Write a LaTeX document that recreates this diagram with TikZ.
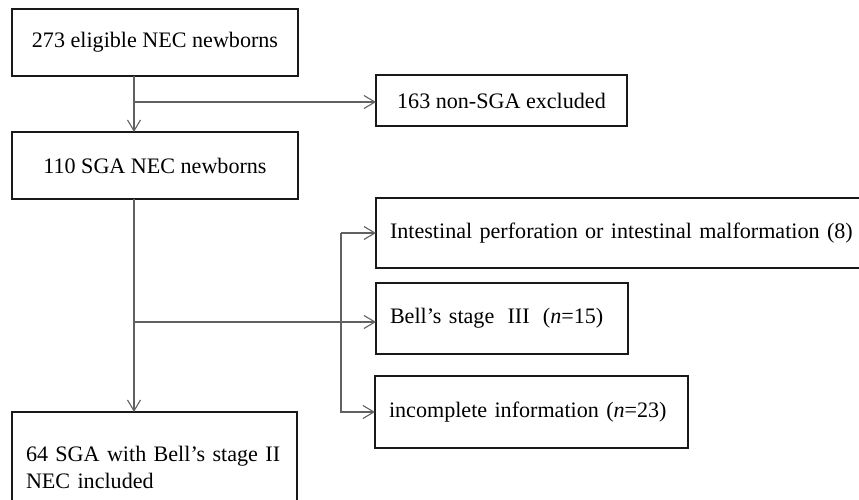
\documentclass[tikz,border=0pt]{standalone}
\usepackage{fontspec}
\setmainfont{Liberation Serif}
\usetikzlibrary{arrows.meta}
\begin{document}
\begin{tikzpicture}[x=1pt,y=-1pt,
  box/.style={draw=black!90, line width=1.8pt, outer sep=0pt, inner ysep=0pt,
    font=\fontsize{22.1}{27}\selectfont},
  arr/.style={draw=black!62, line width=1.1pt,
    -{Straight Barb[length=11pt,width=13pt,line width=1.1pt]}}]
\useasboundingbox (0,0) rectangle (859,500);
\clip (0,0) rectangle (859,500);

\node[box, minimum width=286pt, minimum height=67pt] (b1) at (155,42.5) {273 eligible NEC newborns};
\node[box, minimum width=251pt, minimum height=51pt] (ex1) at (501.5,100.5) {163 non-SGA excluded};
\node[box, minimum width=286pt, minimum height=67pt] (b2) at (155,165.5) {110 SGA NEC newborns};
\node[box, minimum width=504pt, minimum height=70pt, inner xsep=14pt, text width=476pt, align=left]
  (ex2) at (628,233) {\mbox{Intestinal perforation or intestinal malformation (8)}};
\node[box, minimum width=252pt, minimum height=71pt, inner xsep=14pt, text width=224pt, align=left]
  (ex3) at (502,318.5) {\mbox{Bell’s stage\hspace{0.6em}III\hspace{0.6em}(\textit{n}=15)}};
\node[box, minimum width=313pt, minimum height=72pt, inner xsep=14pt, text width=285pt, align=left]
  (ex4) at (531.5,412) {\mbox{incomplete information (\textit{n}=23)}};
\node[box, anchor=north west, minimum height=110pt, inner xsep=14pt, inner ysep=24pt, text width=257pt, align=left]
  (b3) at (12,412) {\mbox{64 SGA with Bell’s stage II}\\NEC included};

\coordinate (m) at (134,0);
\coordinate (j1) at (134,102);
\coordinate (j2) at (134,322);
\coordinate (v) at (341,0);

\draw[arr] (b1.south -| m) -- (b2.north -| m);
\draw[arr] (j1) -- (j1 -| ex1.west);
\draw[arr] (b2.south -| m) -- (b3.north -| m);
\draw[arr] (j2) -- (j2 -| ex3.west);
\draw[arr] (v |- ex2.west) -- (ex2.west);
\draw[arr] (v |- ex2.west) |- (ex4.west);
\end{tikzpicture}
\end{document}
